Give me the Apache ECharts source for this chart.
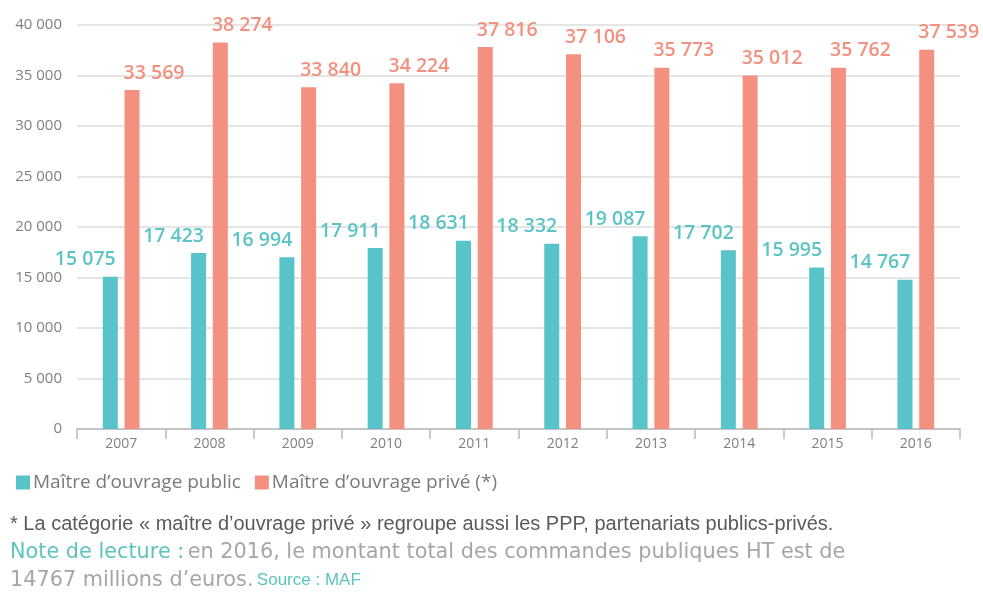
<!DOCTYPE html>
<html>
<head>
<meta charset="utf-8">
<script src="https://cdn.jsdelivr.net/npm/echarts@6/dist/echarts.min.js"></script>
<style>
  html, body { margin: 0; padding: 0; background: #fff; }
  #chart { width: 983px; height: 594px; }
</style>
</head>
<body>
<div id="chart"></div>
<script>
// données (millions d'euros HT)
const years = ['2007', '2008', '2009', '2010', '2011', '2012', '2013', '2014', '2015', '2016'];
const publicValues = [15075, 17423, 16994, 17911, 18631, 18332, 19087, 17702, 15995, 14767];
const priveValues = [33569, 38274, 33840, 34224, 37816, 37106, 35773, 35012, 35762, 37539];
const yTicks = [0, 5000, 10000, 15000, 20000, 25000, 30000, 35000, 40000];

const TEAL = '#58c3c8';
const SALMON = '#f4907f';

function fmt(v) {
  return String(v).replace(/\B(?=(\d{3})+(?!\d))/g, ' ');
}

const chart = echarts.init(document.getElementById('chart'));

const option = {
  animation: false,
  grid: { left: 77, right: 23, top: 25, bottom: 165 },
  legend: {
    left: 11,
    top: 468,
    itemWidth: 14,
    itemHeight: 14,
    itemGap: 14,
    icon: 'rect',
    textStyle: { fontFamily: 'Open Sans', fontSize: 19, color: '#7a7a7a', padding: [0, 0, 0, -2] },
    data: ['Maître d’ouvrage public', 'Maître d’ouvrage privé (*)']
  },
  xAxis: {
    type: 'category',
    data: years,
    axisLine: { lineStyle: { color: '#b9b9b9', width: 1.5 } },
    axisTick: { show: true, length: 10, lineStyle: { color: '#b9b9b9', width: 1.5 } },
    axisLabel: { fontFamily: 'Open Sans', fontSize: 14, color: '#808080', margin: 8 }
  },
  yAxis: {
    type: 'value',
    min: yTicks[0],
    max: yTicks[yTicks.length - 1],
    interval: 5000,
    axisLine: { show: false },
    axisTick: { show: false },
    splitLine: { lineStyle: { color: '#dcdcdc', width: 1.5 } },
    axisLabel: {
      fontFamily: 'Open Sans', fontSize: 15, color: '#808080', margin: 15,
      formatter: fmt
    }
  },
  series: [
    {
      name: 'Maître d’ouvrage public',
      type: 'bar',
      data: publicValues,
      barWidth: 15,
      barGap: '45%',
      itemStyle: { color: TEAL },
      label: {
        show: true,
        position: 'top',
        distance: 7,
        offset: [-25, 0],
        fontFamily: 'Open Sans',
        fontWeight: 600,
        fontSize: 19.5,
        color: '#5cc4c4',
        formatter: p => fmt(p.value)
      }
    },
    {
      name: 'Maître d’ouvrage privé (*)',
      type: 'bar',
      data: priveValues,
      barWidth: 15,
      itemStyle: { color: SALMON },
      label: {
        show: true,
        position: 'top',
        distance: 7,
        offset: [22, 0],
        fontFamily: 'Open Sans',
        fontWeight: 600,
        fontSize: 19.5,
        color: '#f2917f',
        formatter: p => fmt(p.value)
      }
    }
  ],
  graphic: [
    {
      type: 'text',
      left: 10,
      top: 514,
      style: {
        text: '* La catégorie « maître d’ouvrage privé » regroupe aussi les PPP, partenariats publics-privés.',
        font: '20px "Liberation Sans"',
        fill: '#5a5a5a'
      }
    },
    {
      type: 'text',
      left: 10,
      top: 542,
      style: {
        text: '{a|Note de lecture :} {b|en 2016, le montant total des commandes publiques HT est de}',
        rich: {
          a: { fontFamily: 'DejaVu Sans', fontSize: 20.8, fill: '#5cc4bd', color: '#5cc4bd' },
          b: { fontFamily: 'DejaVu Sans', fontSize: 20.8, fill: '#a6a6a6', color: '#a6a6a6' }
        }
      }
    },
    {
      type: 'text',
      left: 10,
      top: 570,
      style: {
        text: '{b|14767 millions d’euros.} {c|Source : MAF}',
        rich: {
          b: { fontFamily: 'DejaVu Sans', fontSize: 20.8, fill: '#a6a6a6', color: '#a6a6a6' },
          c: { fontFamily: 'Liberation Sans', fontSize: 17, fill: '#5cc4bd', color: '#5cc4bd' }
        }
      }
    }
  ]
};

chart.setOption(option);
</script>
</body>
</html>
